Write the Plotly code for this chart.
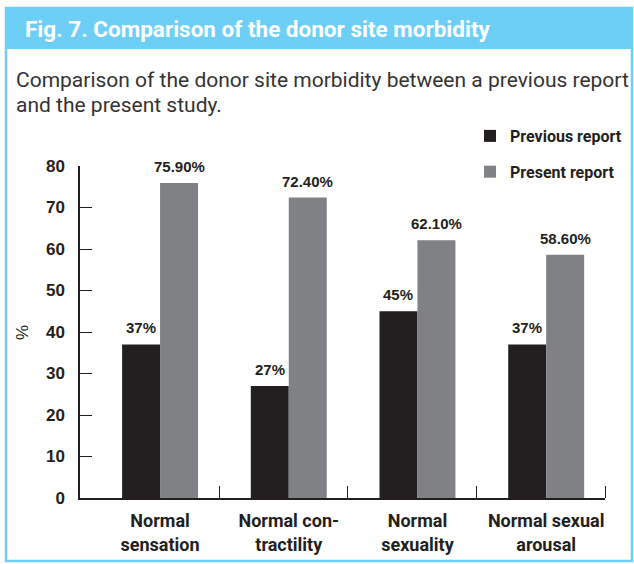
import plotly.graph_objects as go

# ---- data ----
categories = ["Normal<br>sensation", "Normal con-<br>tractility", "Normal<br>sexuality", "Normal sexual<br>arousal"]
positions = [0, 1, 2, 3]
previous = [37, 27, 45, 37]
present = [75.9, 72.4, 62.1, 58.6]
previous_labels = ["37%", "27%", "45%", "37%"]
present_labels = ["75.90%", "72.40%", "62.10%", "58.60%"]
series_names = ["Previous report", "Present report"]
y_ticks = [0, 10, 20, 30, 40, 50, 60, 70, 80]
divider_ticks = [0.46, 1.46, 2.46, 3.457]
title_text = "Fig. 7. Comparison of the donor site morbidity"
caption_lines = ["Comparison of the donor site morbidity between a previous report", "and the present study."]

# ---- style ----
DARK = "#231f20"
GRAY = "#808184"
BLUE = "#6dcff6"
SANS = "Roboto, Liberation Sans, sans-serif"
HELV = "Liberation Sans, Arial, Helvetica, sans-serif"
BARGAP = 0.41

W, H = 634, 564
L, R, T, B = 80, 605, 166, 498


def xp(px):
    return (px - L) / (R - L)


def yp(py):
    return (B - py) / (B - T)


fig = go.Figure()
fig.add_trace(go.Bar(
    x=positions, y=previous, name=series_names[0], marker=dict(color=DARK, line=dict(width=0)),
    legendgroup="a", hoverinfo="skip",
))
fig.add_trace(go.Bar(
    x=positions, y=present, name=series_names[1], marker=dict(color=GRAY, line=dict(width=0)),
    legendgroup="b", hoverinfo="skip",
))

shapes = [
    dict(type="rect", xref="paper", yref="paper", x0=xp(6), x1=xp(632), y0=yp(561), y1=yp(8),
         line=dict(color=BLUE, width=2.5), fillcolor="rgba(0,0,0,0)", layer="below"),
    dict(type="rect", xref="paper", yref="paper", x0=xp(6), x1=xp(632), y0=yp(49), y1=yp(8),
         line=dict(width=0), fillcolor=BLUE, layer="below"),
]

annotations = [
    dict(xref="paper", yref="paper", x=xp(23), y=yp(29), xanchor="left", yanchor="middle",
         text=title_text, showarrow=False,
         font=dict(family=SANS, size=22.5, color="white", weight="bold")),
    dict(xref="paper", yref="paper", x=xp(14), y=yp(80), xanchor="left", yanchor="middle",
         text=caption_lines[0], showarrow=False, font=dict(family=SANS, size=21, color="#333333")),
    dict(xref="paper", yref="paper", x=xp(14), y=yp(105), xanchor="left", yanchor="middle",
         text=caption_lines[1], showarrow=False, font=dict(family=SANS, size=21, color="#333333")),
    dict(xref="paper", yref="paper", x=xp(22), y=yp(333), xanchor="center", yanchor="middle",
         text="%", textangle=-90, showarrow=False, font=dict(family=HELV, size=17, color=DARK)),
]

# value labels above each bar
half = (1 - BARGAP) / 4
label_font = dict(family=HELV, size=15, color=DARK, weight="bold")
for pos, val, lab in zip(positions, previous, previous_labels):
    annotations.append(dict(x=pos - half, y=val, xref="x", yref="y", text=lab, showarrow=False,
                            xanchor="center", yanchor="bottom", yshift=6, font=label_font))
for pos, val, lab in zip(positions, present, present_labels):
    annotations.append(dict(x=pos + half, y=val, xref="x", yref="y", text=lab, showarrow=False,
                            xanchor="center", yanchor="bottom", yshift=6, font=label_font))

fig.update_layout(
    width=W, height=H,
    margin=dict(l=L, r=W - R, t=T, b=H - B, pad=0, autoexpand=False),
    paper_bgcolor="white", plot_bgcolor="white",
    barmode="group", bargap=BARGAP, bargroupgap=0,
    showlegend=True,
    legend=dict(x=xp(470), y=yp(119), xanchor="left", yanchor="top", traceorder="grouped",
                tracegroupgap=12, font=dict(family=SANS, size=16, color=DARK, weight="bold"),
                bgcolor="rgba(0,0,0,0)", borderwidth=0),
    shapes=shapes, annotations=annotations,
    xaxis=dict(range=[-0.622, 3.457], tickmode="array", tickvals=positions, ticktext=categories,
               ticks="", showline=True, linecolor=DARK, linewidth=1.5, showgrid=False, zeroline=False,
               tickfont=dict(family=SANS, size=18, color=DARK, weight="bold"), ticklabelstandoff=6,
               minor=dict(tickmode="array", tickvals=divider_ticks, ticks="inside", ticklen=12,
                          tickwidth=1.2, tickcolor=DARK, showgrid=False)),
    yaxis=dict(range=[0, 80], tickmode="array", tickvals=y_ticks, ticks="inside", ticklen=12,
               tickwidth=1.2, tickcolor=DARK, showline=True, linecolor=DARK, linewidth=1.5,
               showgrid=False, zeroline=False, ticklabelstandoff=10,
               tickfont=dict(family=HELV, size=17, color=DARK, weight="bold")),
)

fig.write_html("out.html", config={"displayModeBar": False},
               post_script="document.body.style.margin='0';")
